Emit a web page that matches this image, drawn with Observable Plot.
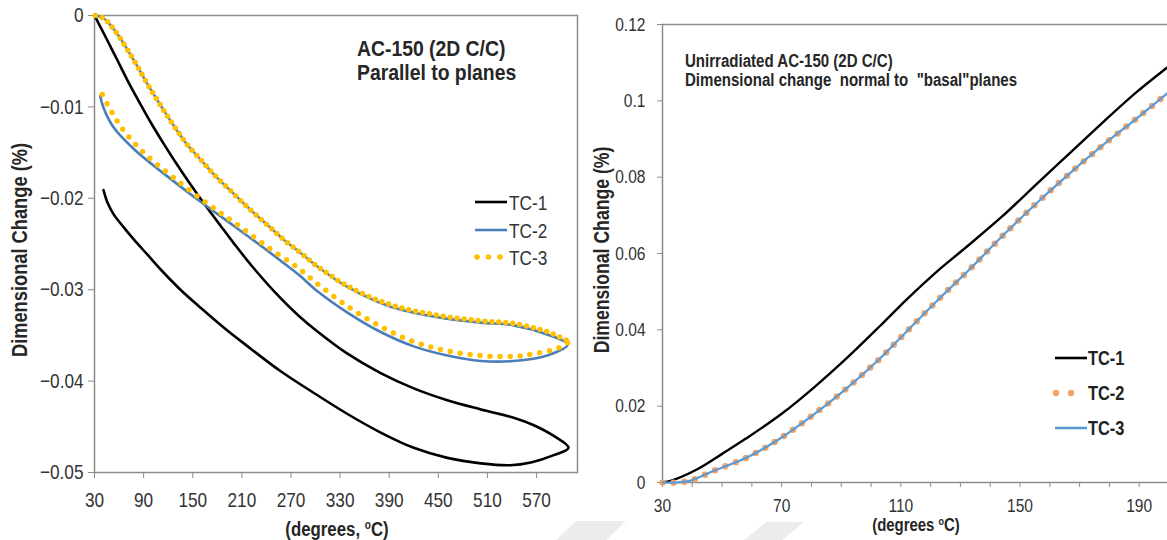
<!DOCTYPE html>
<html><head><meta charset="utf-8">
<script src="https://cdn.jsdelivr.net/npm/d3@7"></script>
<script src="https://cdn.jsdelivr.net/npm/@observablehq/plot@0.6"></script>
<style>
html,body{margin:0;padding:0;background:#fff;}
#wrap{position:relative;width:1167px;height:540px;overflow:hidden;font-family:"Liberation Sans",Arial,sans-serif;color:#262626;}
.abs{position:absolute;white-space:pre;line-height:1;}
#left,#right{position:absolute;top:0;}
#left{left:0px;} #right{left:580px;}
.b{font-weight:bold;}
sup{font-size:60%;vertical-align:0.55em;line-height:0;}
</style></head><body>
<div id="wrap">
  <svg id="wm" width="1167" height="540" style="position:absolute;left:0;top:0;"></svg>
  <div id="left"></div>
  <div id="right"></div>
  <div class="abs b" style="left:357px;top:38px;font-size:22.5px;transform:scaleX(0.86);transform-origin:0 50%;">AC-150 (2D C/C)</div>
  <div class="abs b" style="left:357px;top:62px;font-size:22.5px;transform:scaleX(0.86);transform-origin:0 50%;">Parallel to planes</div>
  <div class="abs b" style="left:-130px;top:238px;width:300px;height:24px;line-height:24px;text-align:center;font-size:22px;transform:rotate(-90deg) scaleX(0.83);">Dimensional Change (%)</div>
  <div class="abs b" style="left:237px;top:519px;width:200px;text-align:center;font-size:20px;transform:scaleX(0.84);">(degrees, <sup>o</sup>C)</div>
  <div class="abs b" style="left:685px;top:53px;font-size:17.5px;transform:scaleX(0.86);transform-origin:0 50%;">Unirradiated AC-150 (2D C/C)</div>
  <div class="abs b" style="left:685px;top:72px;font-size:17.5px;transform:scaleX(0.86);transform-origin:0 50%;">Dimensional change  normal to  "basal"planes</div>
  <div class="abs b" style="left:452px;top:238px;width:300px;height:24px;line-height:24px;text-align:center;font-size:21.5px;transform:rotate(-90deg) scaleX(0.82);">Dimensional Change (%)</div>
  <div class="abs b" style="left:816px;top:516px;width:200px;text-align:center;font-size:18px;transform:scaleX(0.83);">(degrees <sup>o</sup>C)</div>
  <svg id="legend" width="1167" height="540" style="position:absolute;left:0;top:0;pointer-events:none;"></svg>
</div>
<script>
// ---------- Left panel: AC-150 parallel to planes ----------
const leftXTicks = [30, 90, 150, 210, 270, 330, 390, 450, 510, 570];
const leftYTicks = [0, -0.01, -0.02, -0.03, -0.04, -0.05];

// TC-1 (loop: heating then cooling)
const leftTC1_T = [30, 45, 58, 72, 88, 100, 115, 130, 145, 160, 184, 200, 224, 257, 280, 300, 339, 379, 420, 461, 502, 542, 566, 591, 609,
                   591, 563, 538, 502, 461, 420, 379, 339, 298, 257, 220, 190, 160, 135, 112, 95, 78, 65, 53, 46, 41];
const leftTC1_V = [0, -0.0026, -0.0049, -0.0074, -0.0100, -0.0119, -0.0141, -0.0162, -0.0182, -0.0201, -0.0230, -0.0249, -0.0276, -0.0309, -0.0329, -0.0344, -0.0370, -0.0391, -0.0408, -0.0421, -0.0431, -0.0440, -0.0448, -0.0460, -0.0473,
                   -0.0481, -0.0489, -0.0492, -0.0490, -0.0484, -0.0473, -0.0456, -0.0436, -0.0413, -0.0389, -0.0364, -0.0343, -0.0320, -0.0300, -0.0279, -0.0262, -0.0245, -0.0231, -0.0217, -0.0205, -0.0191];

// TC-2 (blue line)
const leftTC2_T = [31, 41, 50, 60, 70, 82, 94, 107, 119, 131, 143, 160, 176, 200, 221, 241, 261, 282, 300, 339, 390, 449, 502, 542, 583, 608,
                   583, 542, 502, 461, 420, 379, 339, 300, 280, 257, 200, 160, 119, 78, 53, 41, 37];
const leftTC2_V = [0, -0.0003, -0.0011, -0.0023, -0.0037, -0.0055, -0.0074, -0.0093, -0.0110, -0.0126, -0.0141, -0.0158, -0.0174, -0.0195, -0.0213, -0.0229, -0.0245, -0.0260, -0.0273, -0.0297, -0.0318, -0.0330, -0.0336, -0.0339, -0.0349, -0.0360,
                   -0.0372, -0.0378, -0.0378, -0.0372, -0.0362, -0.0346, -0.0325, -0.0300, -0.0284, -0.0268, -0.0230, -0.0204, -0.0176, -0.0146, -0.0122, -0.0101, -0.0088];

// TC-3 (yellow dots) heating / cooling branches
const leftTC3h_T = [31, 41, 50, 60, 70, 82, 94, 107, 119, 131, 143, 160, 176, 200, 221, 241, 261, 282, 300, 339, 390, 449, 502, 542, 583, 608];
const leftTC3h_V = [0, -0.0003, -0.0011, -0.0023, -0.0037, -0.0055, -0.0074, -0.0093, -0.0110, -0.0126, -0.0141, -0.0158, -0.0174, -0.0195, -0.0213, -0.0229, -0.0245, -0.0260, -0.0273, -0.0296, -0.0316, -0.0328, -0.0334, -0.0337, -0.0346, -0.0356];
const leftTC3c_T = [608, 596, 568, 542, 502, 461, 420, 379, 339, 300, 280, 241, 200, 168, 126, 90, 65, 50, 37];
const leftTC3c_V = [-0.0358, -0.0364, -0.0370, -0.0373, -0.0372, -0.0367, -0.0357, -0.0340, -0.0318, -0.0292, -0.0277, -0.0253, -0.0226, -0.0206, -0.0177, -0.0150, -0.0125, -0.0104, -0.0082];

// ---------- Right panel: normal to basal planes ----------
const rightXTicks = [30, 70, 110, 150, 190];
const rightXMinor = [40, 50, 60, 80, 90, 100, 120, 130, 140, 160, 170, 180];
const rightYTicks = [0, 0.02, 0.04, 0.06, 0.08, 0.1, 0.12];

const rightTC1_T = [30, 33, 42, 50, 58, 70, 81, 92, 103, 112, 122, 132, 144, 156, 167, 178, 189, 199.5];
const rightTC1_V = [0, 0.0005, 0.0036, 0.0075, 0.0115, 0.0180, 0.0250, 0.0327, 0.0410, 0.0480, 0.0552, 0.0617, 0.0697, 0.0785, 0.0865, 0.0945, 0.1022, 0.1088];
const rightTC2_T = [30, 35, 39.4, 47, 58.5, 69.6, 80.7, 92, 103, 111, 122, 133, 144, 156, 167, 178, 189, 199.5];
const rightTC2_V = [0, 0.0000, 0.0005, 0.0030, 0.0066, 0.0116, 0.0178, 0.0248, 0.0325, 0.0388, 0.0475, 0.0558, 0.0645, 0.0735, 0.0812, 0.0885, 0.0953, 0.1020];
const rightTC3_T = [30, 35, 39.4, 47, 58.5, 69.6, 80.7, 92, 103, 111, 122, 133, 144, 156, 167, 178, 189, 199.5];
const rightTC3_V = [0, 0.0000, 0.0005, 0.0030, 0.0066, 0.0116, 0.0178, 0.0248, 0.0325, 0.0388, 0.0475, 0.0558, 0.0645, 0.0735, 0.0812, 0.0885, 0.0953, 0.1020];

const zip = (T, V) => T.map((t, i) => ({t, v: V[i]}));
const FONT = '"Liberation Sans",Arial,sans-serif';
const AX = "#8c8c8c", TXT = "#333333";
const fmtLeft = d => d === 0 ? "0" : "\u2212" + Math.abs(d).toFixed(2);
const fmtRight = d => d === 0 ? "0" : String(+d.toFixed(2));

const left = Plot.plot({
  width: 600, height: 540,
  marginLeft: 94, marginTop: 15, marginRight: 23, marginBottom: 68,
  style: {fontFamily: FONT, fontSize: "21px", background: "transparent", color: TXT},
  x: {domain: [30, 620]},
  y: {domain: [-0.05, 0]},
  marks: [
    Plot.frame({stroke: AX, strokeWidth: 1.5}),
    Plot.axisX({ticks: leftXTicks, tickSize: 6, tickPadding: 14, stroke: AX, fill: TXT, fontSize: 21, label: null, tickFormat: d => String(d)}),
    Plot.axisY({ticks: leftYTicks, tickSize: 6, tickPadding: 5, stroke: AX, fill: TXT, fontSize: 21, label: null, tickFormat: fmtLeft}),
    Plot.line(zip(leftTC1_T, leftTC1_V), {x: "t", y: "v", stroke: "#000", strokeWidth: 2.6, curve: "catmull-rom"}),
    Plot.line(zip(leftTC2_T, leftTC2_V), {x: "t", y: "v", stroke: "#4a7ebb", strokeWidth: 2.6, curve: "catmull-rom"}),
    Plot.line(zip(leftTC3h_T, leftTC3h_V), {x: "t", y: "v", stroke: "#ffc000", strokeWidth: 5.5, strokeDasharray: "0 7", strokeLinecap: "round", curve: "catmull-rom"}),
    Plot.line(zip(leftTC3c_T, leftTC3c_V), {x: "t", y: "v", stroke: "#ffc000", strokeWidth: 5.5, strokeDasharray: "0 10", strokeLinecap: "round", curve: "catmull-rom"})
  ]
});
document.getElementById("left").appendChild(left);

const right = Plot.plot({
  width: 587, height: 540,
  marginLeft: 82, marginTop: 24, marginRight: 0, marginBottom: 58,
  style: {fontFamily: FONT, fontSize: "19px", background: "transparent", color: TXT},
  x: {domain: [30, 199.5]},
  y: {domain: [0, 0.12]},
  marks: [
    Plot.ruleY([0.12], {stroke: AX, strokeWidth: 1.5}),
    Plot.ruleY([0], {stroke: AX, strokeWidth: 1.5}),
    Plot.ruleX([30], {stroke: AX, strokeWidth: 1.5}),
    Plot.axisX({ticks: rightXMinor, tickSize: 5, stroke: AX, label: null, tickFormat: () => ""}),
    Plot.axisX({ticks: rightXTicks, tickSize: 5, tickPadding: 11, stroke: AX, fill: TXT, fontSize: 19, label: null, tickFormat: d => String(d)}),
    Plot.axisY({ticks: rightYTicks, tickSize: 5, tickPadding: 12, stroke: AX, fill: TXT, fontSize: 19, label: null, tickFormat: fmtRight}),
    Plot.line(zip(rightTC1_T, rightTC1_V), {x: "t", y: "v", stroke: "#000", strokeWidth: 2.4, curve: "catmull-rom"}),
    Plot.line(zip(rightTC2_T, rightTC2_V), {x: "t", y: "v", stroke: "#f4a366", strokeWidth: 6.5, strokeDasharray: "0 11", strokeLinecap: "round", curve: "catmull-rom"}),
    Plot.line(zip(rightTC3_T, rightTC3_V), {x: "t", y: "v", stroke: "#5b9bd5", strokeWidth: 2.2, curve: "catmull-rom"})
  ]
});
document.getElementById("right").appendChild(right);

// ---------- Legends ----------
const lg = d3.select("#legend");
const leftNames = ["TC-1", "TC-2", "TC-3"];
const rightNames = ["TC-1", "TC-2", "TC-3"];
const lrows = [202, 230, 257];
lg.append("line").attr("x1", 475).attr("x2", 507).attr("y1", lrows[0]).attr("y2", lrows[0]).attr("stroke", "#000").attr("stroke-width", 2.6);
lg.append("line").attr("x1", 475).attr("x2", 507).attr("y1", lrows[1]).attr("y2", lrows[1]).attr("stroke", "#4a7ebb").attr("stroke-width", 2.6);
[477, 488.5, 500].forEach(cx => lg.append("circle").attr("cx", cx).attr("cy", lrows[2]).attr("r", 2.8).attr("fill", "#ffc000"));
leftNames.forEach((n, i) => lg.append("text").attr("x", 509).attr("y", lrows[i]).attr("dy", "0.36em")
  .attr("font-size", 21).attr("fill", TXT).attr("font-family", FONT).text(n));
const rrows = [358, 393, 428];
lg.append("line").attr("x1", 1055).attr("x2", 1087).attr("y1", rrows[0]).attr("y2", rrows[0]).attr("stroke", "#000").attr("stroke-width", 2.6);
[1056, 1071].forEach(cx => lg.append("circle").attr("cx", cx).attr("cy", rrows[1]).attr("r", 3.2).attr("fill", "#f4a366"));
lg.append("line").attr("x1", 1055).attr("x2", 1087).attr("y1", rrows[2]).attr("y2", rrows[2]).attr("stroke", "#5b9bd5").attr("stroke-width", 2.6);
rightNames.forEach((n, i) => lg.append("text").attr("x", 1088).attr("y", rrows[i]).attr("dy", "0.36em")
  .attr("font-size", 20).attr("font-weight", "bold").attr("fill", "#222").attr("font-family", FONT).text(n));

// faint watermark fragments at the bottom edge
const wm = d3.select("#wm");
wm.append("polygon").attr("points", "556,540 576,521 626,521 606,540").attr("fill", "#ececec");
wm.append("polygon").attr("points", "744,540 766,522 804,522 782,540").attr("fill", "#ececec");

// ---------- condense all SVG text horizontally (narrow face) ----------
function condense(root, k) {
  root.querySelectorAll("text").forEach(el => {
    const bb = el.getBBox();
    if (!bb.width) return;
    const anchor = getComputedStyle(el).textAnchor;
    const ax = anchor === "end" ? bb.x + bb.width : anchor === "middle" ? bb.x + bb.width / 2 : bb.x;
    const prev = el.getAttribute("transform") || "";
    el.setAttribute("transform", `${prev} translate(${ax},0) scale(${k},1) translate(${-ax},0)`.trim());
  });
}
condense(left, 0.82);
condense(right, 0.82);
condense(document.getElementById("legend"), 0.82);
</script>
</body></html>
